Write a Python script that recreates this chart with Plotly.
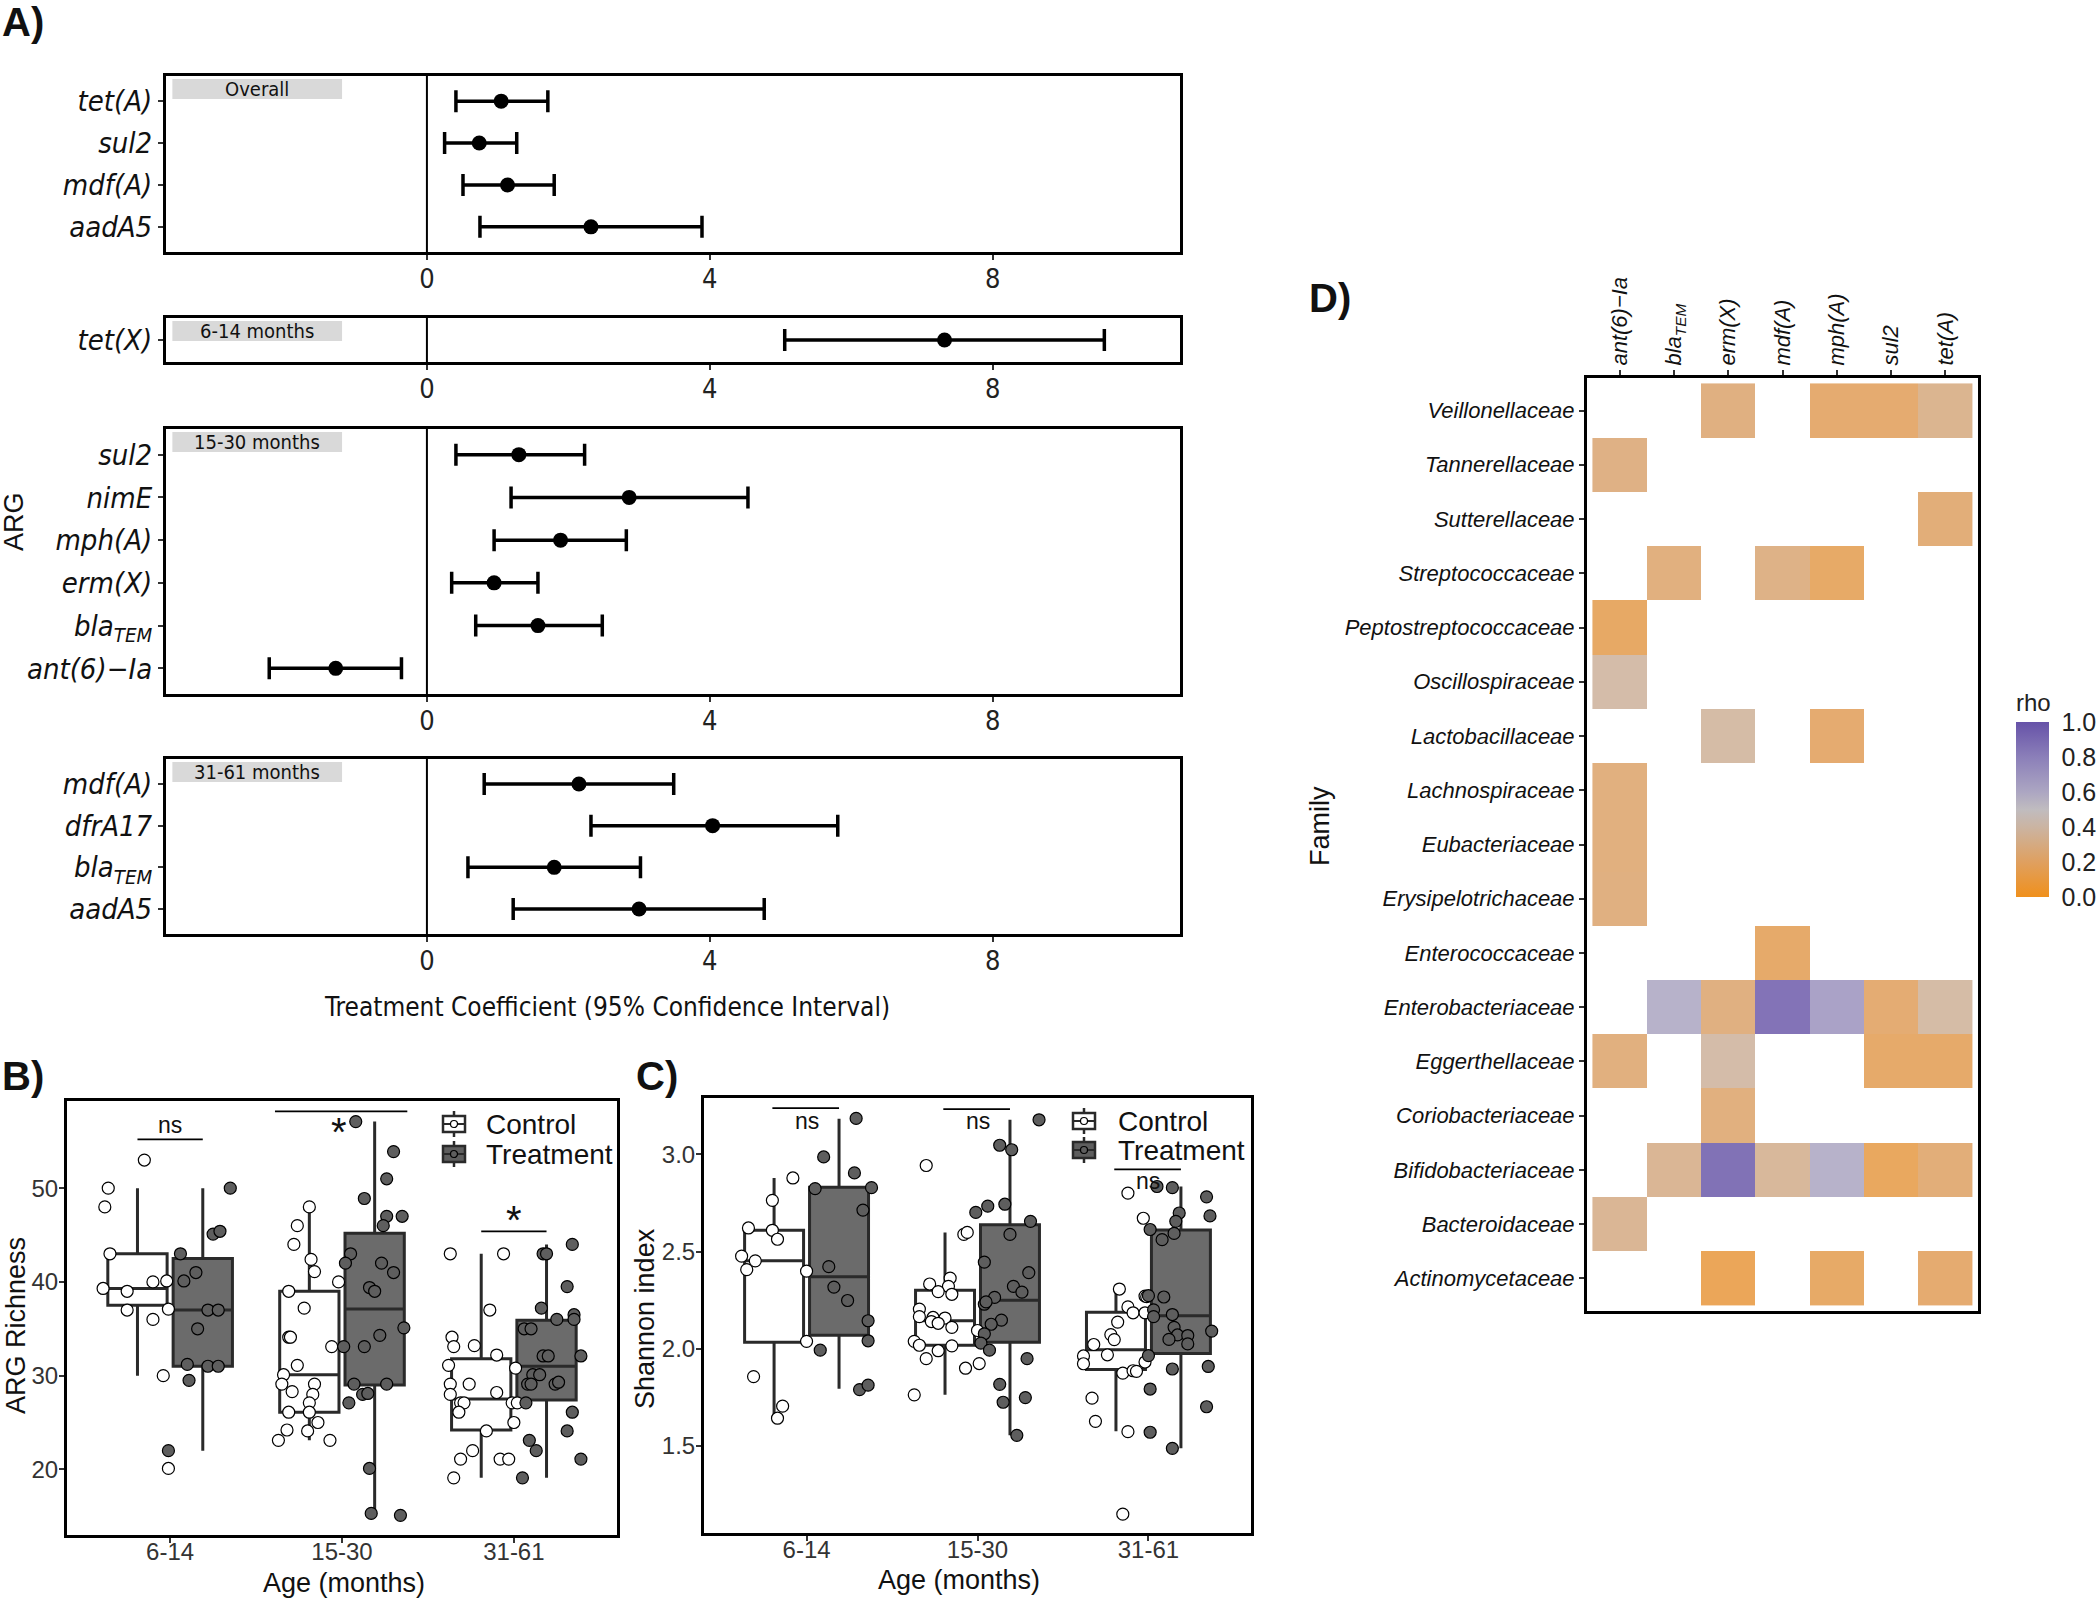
import plotly.graph_objects as go

# canvas (browser window) size; the page body margin is removed by a post script
W, H = 2100, 1598
OFF = 0
FW, FH = W - OFF, H - OFF

# ---------------- Panel A data ----------------
facet_names = ["Overall", "6-14 months", "15-30 months", "31-61 months"]
genes_overall = ["tet(A)", "sul2", "mdf(A)", "aadA5"]
coef_overall = [1.05, 0.74, 1.14, 2.32]
lo_overall = [0.41, 0.25, 0.51, 0.75]
hi_overall = [1.71, 1.27, 1.80, 3.89]

genes_6_14 = ["tet(X)"]
coef_6_14 = [7.32]
lo_6_14 = [5.06]
hi_6_14 = [9.58]

genes_15_30 = ["sul2", "nimE", "mph(A)", "erm(X)", "blaTEM", "ant(6)-Ia"]
coef_15_30 = [1.30, 2.86, 1.89, 0.95, 1.57, -1.29]
lo_15_30 = [0.41, 1.19, 0.95, 0.35, 0.69, -2.23]
hi_15_30 = [2.23, 4.54, 2.82, 1.57, 2.48, -0.36]

genes_31_61 = ["mdf(A)", "dfrA17", "blaTEM", "aadA5"]
coef_31_61 = [2.15, 4.04, 1.80, 3.00]
lo_31_61 = [0.81, 2.32, 0.58, 1.22]
hi_31_61 = [3.49, 5.81, 3.02, 4.77]

gene_labels = {
    "tet(A)": "<i>tet(A)</i>", "sul2": "<i>sul2</i>", "mdf(A)": "<i>mdf(A)</i>",
    "aadA5": "<i>aadA5</i>", "tet(X)": "<i>tet(X)</i>", "nimE": "<i>nimE</i>",
    "mph(A)": "<i>mph(A)</i>", "erm(X)": "<i>erm(X)</i>",
    "blaTEM": "<i>bla<sub>TEM</sub></i>", "ant(6)-Ia": "<i>ant(6)\u2212Ia</i>",
    "dfrA17": "<i>dfrA17</i>",
}
a_xticks = [0, 4, 8]

# ---------------- Panel B / C data ----------------
ages = ["6-14", "15-30", "31-61"]
groups = ["Control", "Treatment"]

rich_ctrl = [
    [53, 50, 48, 43, 39.3, 39, 40, 40.1, 37, 37.1, 36, 30, 20.1],
    [48, 46, 44, 42.4, 41.1, 40, 39, 37.2, 34.1, 34.1, 33.1, 31.1, 30.1, 29.1, 29.1, 28.3, 28, 27.1, 26.1, 26.1, 25, 24.2, 24.1, 23.1, 23.1],
    [43, 43, 37, 34.1, 33.1, 33.2, 31.1, 32.2, 30.8, 29.1, 29.1, 28, 28.2, 27.1, 27.1, 27.1, 27.1, 26.1, 25, 24.1, 22, 21.1, 21.1, 21.1, 19.1],
]
rich_ctrl_jit = [
    [-0.15, -0.36, -0.38, -0.35, -0.39, -0.25, -0.10, -0.02, -0.25, -0.01, -0.10, -0.04, -0.01],
    [-0.19, -0.26, -0.28, -0.18, -0.16, -0.02, -0.31, -0.22, -0.31, -0.30, -0.06, -0.26, -0.34, -0.35, -0.16, -0.29, -0.17, -0.19, -0.31, -0.19, -0.14, -0.32, -0.20, -0.37, -0.07],
    [-0.37, -0.06, -0.14, -0.36, -0.35, -0.23, -0.38, -0.10, 0.01, -0.37, -0.26, -0.37, -0.10, -0.31, -0.29, -0.01, 0.02, -0.32, 0.00, -0.16, -0.24, -0.31, -0.08, -0.03, -0.35],
]
rich_trt = [
    [43, 40.1, 41, 50, 45.1, 45.4, 37, 37, 35, 31.2, 31, 31, 29.5, 22],
    [57.1, 53.9, 48.9, 51, 47, 47, 46, 43, 42, 42, 41, 39.4, 39, 35.1, 34.3, 33.1, 33.1, 29.1, 29.1, 28, 28.1, 27.1, 20.1, 15.3, 15.1],
    [44, 43, 43, 39.5, 37.2, 36.5, 36, 36, 35, 35, 32.1, 32.1, 32.1, 30.1, 30.1, 29.1, 29.1, 29.1, 29.3, 27.1, 26.1, 24.1, 23.1, 22, 21.1, 19.1],
]
rich_trt_jit = [
    [0.06, 0.08, 0.15, 0.35, 0.25, 0.29, 0.22, 0.28, 0.16, 0.10, 0.22, 0.28, 0.11, -0.01],
    [0.08, 0.30, 0.13, 0.26, 0.26, 0.35, 0.24, 0.05, 0.02, 0.23, 0.30, 0.16, 0.19, 0.36, 0.22, 0.13, 0.01, 0.07, 0.26, 0.12, 0.15, 0.04, 0.16, 0.17, 0.34],
    [0.34, 0.17, 0.19, 0.31, 0.16, 0.35, 0.25, 0.35, 0.06, 0.10, 0.17, 0.20, 0.39, 0.11, 0.15, 0.08, 0.10, 0.24, 0.26, 0.07, 0.34, 0.31, 0.09, 0.13, 0.39, 0.05],
]
# box stats: lower whisker, q1, median, q3, upper whisker
rich_ctrl_box = dict(lf=[30, 23.1, 19.1], q1=[37.5, 26.1, 24.2], med=[39.3, 30.1, 27.5], q3=[43, 39, 31.8], uf=[50, 48, 43])
rich_trt_box = dict(lf=[22, 15.1, 19.1], q1=[31, 29, 27.4], med=[37, 37.1, 31], q3=[42.5, 45.2, 35.9], uf=[50, 57.1, 44])

shan_ctrl = [
    [2.878, 2.763, 2.621, 2.609, 2.563, 2.476, 2.452, 2.407, 2.399, 2.038, 1.857, 1.705, 1.643],
    [2.942, 2.588, 2.598, 2.363, 2.333, 2.321, 2.294, 2.280, 2.204, 2.165, 2.161, 2.158, 2.140, 2.131, 2.110, 2.094, 2.038, 2.018, 2.015, 1.990, 1.949, 1.900, 1.924, 1.763],
    [2.800, 2.671, 2.307, 2.271, 2.268, 2.215, 2.185, 2.185, 2.137, 2.073, 2.047, 2.022, 1.963, 1.969, 1.923, 1.932, 1.875, 1.887, 1.884, 1.746, 1.627, 1.574, 1.150],
]
shan_ctrl_jit = [
    [-0.08, -0.20, -0.34, -0.20, -0.17, -0.38, -0.30, -0.35, 0.00, 0.00, -0.31, -0.14, -0.17],
    [-0.30, -0.08, -0.06, -0.16, -0.28, -0.17, -0.23, -0.15, -0.34, -0.34, -0.26, -0.19, -0.27, -0.23, -0.15, 0.00, -0.37, -0.34, -0.15, -0.23, -0.30, -0.07, 0.01, -0.37],
    [-0.12, -0.03, -0.17, -0.02, -0.01, -0.12, -0.09, -0.02, -0.18, -0.22, -0.20, -0.32, -0.38, -0.24, -0.38, -0.02, -0.15, -0.09, -0.07, -0.33, -0.31, -0.12, -0.15],
]
shan_trt = [
    [3.184, 2.986, 2.904, 2.823, 2.828, 2.713, 2.422, 2.317, 2.248, 2.144, 2.041, 1.993, 1.790, 1.813],
    [3.177, 3.046, 3.023, 2.743, 2.733, 2.701, 2.655, 2.588, 2.445, 2.391, 2.321, 2.291, 2.264, 2.229, 2.241, 2.147, 2.126, 2.077, 2.029, 1.993, 1.949, 1.817, 1.725, 1.749, 1.555],
    [2.834, 2.828, 2.781, 2.698, 2.683, 2.655, 2.613, 2.593, 2.561, 2.266, 2.273, 2.200, 2.165, 2.176, 2.110, 2.071, 2.068, 2.091, 2.025, 2.048, 1.965, 1.896, 1.909, 1.793, 1.702, 1.571, 1.488],
]
shan_trt_jit = [
    [0.29, 0.10, 0.28, 0.05, 0.38, 0.33, 0.13, 0.16, 0.24, 0.36, 0.36, 0.08, 0.31, 0.36],
    [0.36, 0.13, 0.20, 0.16, 0.06, -0.01, 0.31, 0.19, 0.04, 0.30, 0.21, 0.26, 0.10, 0.04, 0.05, 0.14, 0.08, 0.04, 0.02, 0.07, 0.29, 0.13, 0.15, 0.28, 0.23],
    [0.05, 0.14, 0.34, 0.18, 0.36, 0.16, 0.01, 0.15, 0.08, 0.09, 0.00, 0.03, 0.03, 0.14, 0.15, 0.17, 0.23, 0.37, 0.23, 0.12, 0.00, 0.14, 0.35, 0.01, 0.34, 0.01, 0.14],
]
shan_ctrl_box = dict(lf=[1.643, 1.763, 1.576], q1=[2.034, 2.018, 1.894], med=[2.453, 2.144, 1.995], q3=[2.609, 2.301, 2.188], uf=[2.878, 2.598, 2.307])
shan_trt_box = dict(lf=[1.794, 1.555, 1.488], q1=[2.070, 2.034, 1.976], med=[2.370, 2.250, 2.170], q3=[2.830, 2.637, 2.611], uf=[3.182, 3.177, 2.834])

# significance labels per age group
rich_sig_labels = ["ns", "*", "*"]
rich_sig_line = [55.2, 58.2, 45.4]
rich_sig_text = [56.7, 56.0, 46.6]
rich_sig_span = [(-0.19, 0.19), (-0.39, 0.38), (-0.19, 0.19)]
shan_sig_labels = ["ns", "ns", "ns"]
shan_sig_line = [3.237, 3.232, 2.922]
shan_sig_text = [3.173, 3.170, 2.860]
shan_sig_span = [(-0.20, 0.19), (-0.20, 0.19), (-0.20, 0.19)]

# ---------------- Panel D data ----------------
d_genes = ["ant(6)-Ia", "blaTEM", "erm(X)", "mdf(A)", "mph(A)", "sul2", "tet(A)"]
families = ["Veillonellaceae", "Tannerellaceae", "Sutterellaceae", "Streptococcaceae",
            "Peptostreptococcaceae", "Oscillospiraceae", "Lactobacillaceae", "Lachnospiraceae",
            "Eubacteriaceae", "Erysipelotrichaceae", "Enterococcaceae", "Enterobacteriaceae",
            "Eggerthellaceae", "Coriobacteriaceae", "Bifidobacteriaceae", "Bacteroidaceae",
            "Actinomycetaceae"]
N = None
rho = [
    [N, N, 0.24, N, 0.18, 0.18, 0.29],
    [0.25, N, N, N, N, N, N],
    [N, N, N, N, N, N, 0.21],
    [N, 0.23, N, 0.26, 0.15, N, N],
    [0.14, N, N, N, N, N, N],
    [0.38, N, N, N, N, N, N],
    [N, N, 0.37, N, 0.18, N, N],
    [0.23, N, N, N, N, N, N],
    [0.23, N, N, N, N, N, N],
    [0.24, N, N, N, N, N, N],
    [N, N, N, 0.16, N, N, N],
    [N, 0.60, 0.24, 0.95, 0.70, 0.19, 0.37],
    [0.23, N, 0.38, N, N, 0.16, 0.16],
    [N, N, 0.23, N, N, N, N],
    [N, 0.31, 0.96, 0.33, 0.60, 0.12, 0.21],
    [0.31, N, N, N, N, N, N],
    [N, N, 0.10, N, 0.15, N, 0.18],
]
rho_ticks = [0.0, 0.2, 0.4, 0.6, 0.8, 1.0]

# ---------------- styling ----------------
NARROW = "Liberation Sans Narrow, DejaVu Sans Condensed, Arial Narrow, sans-serif"
SANS = "Liberation Sans, Arial, Helvetica, sans-serif"
CTRL_FILL = "white"
TRT_FILL = "#6b6b6b"
PT_TRT = "#5e5e5e"
BOX_LINE = "#2a2a2a"


def px(x):
    return (x - OFF) / FW


def py(y):
    return 1 - (y - OFF) / FH


def xdom(x0, x1):
    return [px(x0), px(x1)]


def ydom(top, bottom):
    return [py(bottom), py(top)]


fig = go.Figure()
layout = dict(width=FW, height=FH, margin=dict(l=0, r=0, t=0, b=0),
              plot_bgcolor="white", paper_bgcolor="white",
              showlegend=False, shapes=[], annotations=[])

base_axis = dict(showline=True, mirror=True, linewidth=3, linecolor="black",
                 ticks="outside", ticklen=6, tickwidth=2, tickcolor="#333",
                 showgrid=False, zeroline=False)

# ---------------- Panel A ----------------
a_facets = [
    (genes_overall, coef_overall, lo_overall, hi_overall, (76, 252)),
    (genes_6_14, coef_6_14, lo_6_14, hi_6_14, (318, 362)),
    (genes_15_30, coef_15_30, lo_15_30, hi_15_30, (429, 694)),
    (genes_31_61, coef_31_61, lo_31_61, hi_31_61, (759, 934)),
]
A_X = (166, 1180)
A_RANGE = [-3.69, 10.65]
for i, (genes, coef, lo, hi, (top, bot)) in enumerate(a_facets):
    k = i + 1
    xa = "x" if k == 1 else f"x{k}"
    ya = "y" if k == 1 else f"y{k}"
    xkey = "xaxis" if k == 1 else f"xaxis{k}"
    ykey = "yaxis" if k == 1 else f"yaxis{k}"
    n = len(genes)
    layout[xkey] = dict(base_axis, domain=xdom(*A_X), anchor=ya, range=A_RANGE,
                        tickvals=a_xticks, ticktext=[str(t) for t in a_xticks], ticklen=5,
                        ticklabelstandoff=-4,
                        tickfont=dict(family=NARROW, size=27, color="#222"))
    layout[ykey] = dict(base_axis, domain=ydom(top, bot), anchor=xa, type="category",
                        categoryarray=genes, range=[n - 0.4, -0.6],
                        tickvals=genes, ticktext=[gene_labels[g] for g in genes],
                        ticklen=5, tickfont=dict(family=NARROW, size=29, color="#111"))
    fig.add_trace(go.Scatter(
        x=coef, y=genes, mode="markers", xaxis=xa, yaxis=ya, showlegend=False,
        marker=dict(size=15, color="black"),
        error_x=dict(type="data", symmetric=False,
                     array=[h - c for h, c in zip(hi, coef)],
                     arrayminus=[c - l for c, l in zip(coef, lo)],
                     thickness=3.5, width=11, color="black")))
    layout["shapes"].append(dict(type="line", xref=xa, yref=f"{ya} domain",
                                 x0=0, x1=0, y0=0, y1=1, line=dict(color="black", width=2), layer="below"))
    h = bot - top
    layout["shapes"].append(dict(type="rect", xref=xa, yref=f"{ya} domain",
                                 x0=-3.6, x1=-1.2, y0=1 - 23 / h, y1=1 - 3 / h,
                                 fillcolor="#d9d9d9", line=dict(width=0), layer="below"))
    layout["annotations"].append(dict(text=facet_names[i], xref=xa, yref=f"{ya} domain",
                                      x=-2.4, y=1 - 13 / h, showarrow=False,
                                      font=dict(family=NARROW, size=20, color="#111"),
                                      xanchor="center", yanchor="middle"))


# ---------------- Panels B and C ----------------
def box_panel(k, dom_x, dom_y, yr, ytick, ytext, ctrl, ctrl_jit, trt, trt_jit, cbox, tbox,
              sig_lab, sig_line, sig_text, sig_span):
    xa, ya = f"x{k}", f"y{k}"
    layout[f"xaxis{k}"] = dict(base_axis, domain=xdom(*dom_x), anchor=ya, range=[-0.6, 2.6],
                               tickvals=list(range(len(ages))), ticktext=ages, ticklen=5,
                               ticklabelstandoff=-12,
                               tickfont=dict(family=SANS, size=24, color="#333"))
    layout[f"yaxis{k}"] = dict(base_axis, domain=ydom(*dom_y), anchor=xa, range=yr, ticklen=5,
                               tickvals=ytick, ticktext=ytext, ticklabelstandoff=-4,
                               tickfont=dict(family=SANS, size=24, color="#333"))
    pos = list(range(len(ages)))
    for name, st, fill, off in ((groups[0], cbox, CTRL_FILL, -0.19), (groups[1], tbox, TRT_FILL, 0.19)):
        fig.add_trace(go.Box(
            name=name, x=[p + off for p in pos], q1=st["q1"], median=st["med"], q3=st["q3"],
            lowerfence=st["lf"], upperfence=st["uf"], width=0.345, whiskerwidth=0,
            fillcolor=fill, line=dict(color=BOX_LINE, width=3), boxpoints=False,
            xaxis=xa, yaxis=ya, showlegend=False))
    for vals, jit, fill in ((ctrl, ctrl_jit, "white"), (trt, trt_jit, PT_TRT)):
        xs, ys = [], []
        for gi, (vv, jj) in enumerate(zip(vals, jit)):
            xs += [gi + j for j in jj]
            ys += vv
        fig.add_trace(go.Scatter(x=xs, y=ys, mode="markers", xaxis=xa, yaxis=ya, showlegend=False,
                                 marker=dict(size=12, color=fill, line=dict(color="black", width=1.2))))
    for gi in range(len(ages)):
        a0, a1 = sig_span[gi]
        layout["shapes"].append(dict(type="line", xref=xa, yref=ya, x0=gi + a0, x1=gi + a1,
                                     y0=sig_line[gi], y1=sig_line[gi], line=dict(color="black", width=1.8)))
        big = sig_lab[gi] == "*"
        layout["annotations"].append(dict(text=sig_lab[gi], xref=xa, yref=ya,
                                          x=gi - (0.015 if (big and gi == 1) else 0),
                                          y=sig_text[gi], showarrow=False,
                                          font=dict(family=SANS, size=40 if big else 23, color="#111"),
                                          xanchor="center", yanchor="middle"))


rich_ticks = [20, 30, 40, 50]
shan_ticks = [1.5, 2.0, 2.5, 3.0]
box_panel(5, (67, 617), (1101, 1535), [13.0, 59.3], rich_ticks, [str(t) for t in rich_ticks],
          rich_ctrl, rich_ctrl_jit, rich_trt, rich_trt_jit, rich_ctrl_box, rich_trt_box,
          rich_sig_labels, rich_sig_line, rich_sig_text, rich_sig_span)
box_panel(6, (704, 1251), (1098, 1533), [1.053, 3.289], shan_ticks, [f"{t:.1f}" for t in shan_ticks],
          shan_ctrl, shan_ctrl_jit, shan_trt, shan_trt_jit, shan_ctrl_box, shan_trt_box,
          shan_sig_labels, shan_sig_line, shan_sig_text, shan_sig_span)


# manual legends (icon = small boxplot glyph)
def legend_block(icon_x, text_x, rows_y):
    for name, fill, yc in zip(groups, (CTRL_FILL, PT_TRT), rows_y):
        x0, x1 = icon_x - 11, icon_x + 11
        layout["shapes"].append(dict(type="line", xref="paper", yref="paper",
                                     x0=px(icon_x), x1=px(icon_x), y0=py(yc - 13), y1=py(yc + 13),
                                     line=dict(color=BOX_LINE, width=2.5)))
        layout["shapes"].append(dict(type="rect", xref="paper", yref="paper",
                                     x0=px(x0), x1=px(x1), y0=py(yc + 8), y1=py(yc - 8),
                                     fillcolor=fill, line=dict(color=BOX_LINE, width=2.5)))
        layout["shapes"].append(dict(type="line", xref="paper", yref="paper",
                                     x0=px(x0), x1=px(x1), y0=py(yc), y1=py(yc),
                                     line=dict(color=BOX_LINE, width=2)))
        layout["shapes"].append(dict(type="circle", xref="paper", yref="paper",
                                     x0=px(icon_x - 3.5), x1=px(icon_x + 3.5), y0=py(yc + 3.5), y1=py(yc - 3.5),
                                     fillcolor=fill, line=dict(color="black", width=1.2)))
        layout["annotations"].append(dict(text=name, xref="paper", yref="paper", x=px(text_x), y=py(yc),
                                          xanchor="left", yanchor="middle", showarrow=False,
                                          font=dict(family=SANS, size=28, color="#111")))


legend_block(454, 484, (1124, 1154))
legend_block(1084, 1116, (1121, 1150))

# ---------------- Panel D ----------------
d_labels = [gene_labels[g] for g in d_genes]
fig.add_trace(go.Heatmap(
    z=rho, x=d_genes, y=families, xaxis="x7", yaxis="y7", zmin=0, zmax=1,
    opacity=0.86, hoverongaps=False,
    colorscale=[[0, "#f0901c"], [0.2, "#dfa060"], [0.4, "#cbb4a2"], [0.5, "#c0bcbf"],
                [0.6, "#aca6c2"], [0.8, "#8b7fb9"], [1, "#6652a8"]],
    colorbar=dict(title=dict(text="rho", side="top", font=dict(family=SANS, size=24, color="#222")),
                  thickness=33, thicknessmode="pixels", len=207, lenmode="pixels",
                  x=px(2016), xanchor="left", y=py(897), yanchor="bottom", xpad=0, ypad=0,
                  tickvals=rho_ticks, ticktext=[f"{t:.1f}" for t in rho_ticks],
                  ticks="outside", tickcolor="rgba(255,255,255,0)", ticklen=8, tickwidth=1,
                  tickfont=dict(family=SANS, size=25, color="#222"), outlinewidth=0),
    showscale=True))
layout["xaxis7"] = dict(base_axis, domain=xdom(1587, 1978), anchor="y7", type="category",
                        categoryarray=d_genes, range=[-0.6, 6.6], side="top",
                        tickvals=d_genes, ticktext=d_labels, tickangle=-90, ticklen=5,
                        tickfont=dict(family=SANS, size=22, color="#111"))
layout["yaxis7"] = dict(base_axis, domain=ydom(378, 1311), anchor="x7", type="category",
                        categoryarray=families, range=[16.6, -0.6], ticklen=5,
                        tickvals=families, ticktext=[f"<i>{f}</i>" for f in families],
                        tickfont=dict(family=SANS, size=22, color="#111"))

# white tick marks on the colour bar (inside on both sides)
for t in rho_ticks[1:-1]:
    yy = 895 - t * 172
    for xa0, xa1 in ((2016, 2024), (2041, 2049)):
        layout["shapes"].append(dict(type="line", xref="paper", yref="paper",
                                     x0=px(xa0), x1=px(xa1), y0=py(yy), y1=py(yy),
                                     line=dict(color="white", width=1.5), layer="above"))


# ---------------- titles / panel labels ----------------
def ann(text, x, y, size, family=SANS, angle=0, bold=False, color="#111", xanchor="center"):
    layout["annotations"].append(dict(text=f"<b>{text}</b>" if bold else text, xref="paper", yref="paper",
                                      x=px(x), y=py(y), showarrow=False, textangle=angle,
                                      font=dict(family=family, size=size, color=color),
                                      xanchor=xanchor, yanchor="middle"))


ann("A)", 0, 22, 40, bold=True, xanchor="left")
ann("B)", 0, 1076, 40, bold=True, xanchor="left")
ann("C)", 634, 1076, 40, bold=True, xanchor="left")
ann("D)", 1307, 298, 40, bold=True, xanchor="left")
ann("ARG", 14, 522, 27, angle=-90)
ann("Treatment Coefficient (95% Confidence Interval)", 607, 1007, 26, family=NARROW)
ann("ARG Richness", 16, 1326, 27, angle=-90)
ann("Age (months)", 344, 1583, 27)
ann("Shannon index", 645, 1319, 27, angle=-90)
ann("Age (months)", 959, 1580, 27)
ann("Family", 1320, 826, 27, angle=-90)

fig.update_layout(**layout)
fig.write_html("out.html", config={"displayModeBar": False},
               post_script="document.body.style.margin='0px';document.body.style.padding='0px';"
                           "document.body.style.overflow='hidden';")
